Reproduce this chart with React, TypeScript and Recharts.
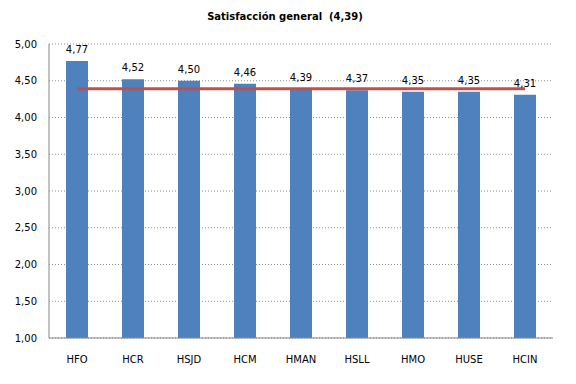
import React from "react";
import { ComposedChart, Bar, Line, XAxis, YAxis, CartesianGrid, LabelList } from "recharts";

const categories = ["HFO", "HCR", "HSJD", "HCM", "HMAN", "HSLL", "HMO", "HUSE", "HCIN"];
const satisfaction = [4.77, 4.52, 4.5, 4.46, 4.39, 4.37, 4.35, 4.35, 4.31];
const average = [4.39, 4.39, 4.39, 4.39, 4.39, 4.39, 4.39, 4.39, 4.39];
const yTicks = [1, 1.5, 2, 2.5, 3, 3.5, 4, 4.5, 5];

const data = categories.map((name, i) => ({ name, value: satisfaction[i], avg: average[i] }));

const fmt = (v: number) => v.toFixed(2).replace(".", ",");
const FONT = "DejaVu Sans";

export default function App() {
  return (
    <div style={{ position: "absolute", left: 0, top: 0, width: 576, height: 384, background: "#fff" }}>
      <div
        style={{
          position: "absolute",
          top: 11,
          left: 0,
          width: 570,
          textAlign: "center",
          fontFamily: FONT,
          fontWeight: "bold",
          fontSize: 10,
          color: "#000",
        }}
      >
        Satisfacción general&nbsp; (4,39)
      </div>
      <ComposedChart
        width={576}
        height={384}
        data={data}
        margin={{ top: 44, right: 23, bottom: 16, left: 0 }}
        barCategoryGap={0}
      >
        <CartesianGrid vertical={false} stroke="#8c8c8c" strokeDasharray="1 2" />
        <XAxis
          dataKey="name"
          height={30}
          tickLine={false}
          tickSize={6}
          tickMargin={12}
          stroke="#868686"
          tick={{ fill: "#000", fontFamily: FONT, fontSize: 10 }}
        />
        <YAxis
          width={49}
          domain={[1, 5]}
          ticks={yTicks}
          tickFormatter={fmt}
          tickLine={false}
          tickSize={6}
          tickMargin={6}
          stroke="#868686"
          allowDataOverflow
          tick={{ fill: "#000", fontFamily: FONT, fontSize: 10 }}
        />
        <Bar dataKey="value" fill="#4f81bd" barSize={22} isAnimationActive={false}>
          <LabelList
            dataKey="value"
            position="top"
            offset={8}
            formatter={(v: any) => fmt(Number(v))}
            style={{ fill: "#000", fontFamily: FONT, fontSize: 10 }}
          />
        </Bar>
        <Line
          dataKey="avg"
          stroke="#c0504d"
          strokeWidth={3}
          dot={false}
          activeDot={false}
          isAnimationActive={false}
        />
      </ComposedChart>
    </div>
  );
}
